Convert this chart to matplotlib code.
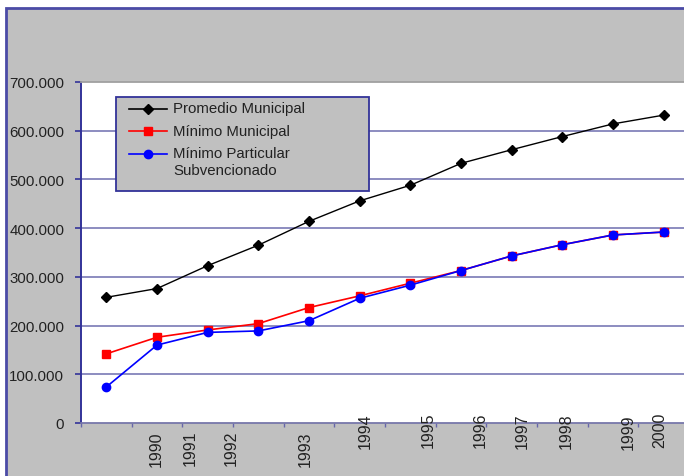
import matplotlib

matplotlib.use("Agg")
import matplotlib.pyplot as plt  # noqa: E402
import matplotlib.transforms as mtransforms  # noqa: E402
from matplotlib.patches import Rectangle  # noqa: E402
from matplotlib.lines import Line2D  # noqa: E402
import numpy as np  # noqa: E402

plt.rcParams["font.family"] = ["Liberation Sans", "DejaVu Sans"]

# Datos (12 observaciones, eje categórico)
promedio_municipal = [258000, 276000, 323000, 365000, 414000, 456000,
                      488000, 533000, 561000, 588000, 614000, 632000]
minimo_municipal = [142000, 176000, 191000, 204000, 237000, 261000,
                    287000, 313000, 343000, 366000, 386000, 392000]
minimo_particular = [74000, 160000, 186000, 189000, 210000, 256000,
                     283000, 313000, 343000, 366000, 386000, 392000]

series_nombres = ["Promedio Municipal", "Mínimo Municipal",
                  "Mínimo Particular\nSubvencionado"]

# Etiquetas de años tal como aparecen (desalineadas) bajo el eje
anios = ["1990", "1991", "1992", "1993", "1994", "1995",
         "1996", "1997", "1998", "1999", "2000"]
anios_x = [0.99, 1.65, 2.47, 3.92, 5.12, 6.35, 7.38, 8.21, 9.08, 10.30, 10.92]
anios_top = [432, 431, 431, 432, 413, 413, 413, 414, 413, 415, 413]  # px desde arriba

y_ticks = list(range(0, 700001, 100000))

_GRIS = "#C0C0C0"
_AZUL_BORDE = "#4B4BA6"
_AZUL_EJE = "#333399"
_GRID = "#8C8CC0"
_TXT = "#222222"

W, H = 684, 477
fig = plt.figure(figsize=(W / 100, H / 100), dpi=100, facecolor="white")

# Marco gris del área del gráfico
fig.patches.append(Rectangle((6 / W, -0.05), 1.1, 1 - 9 / H + 0.05,
                             transform=fig.transFigure, facecolor=_GRIS,
                             edgecolor=_AZUL_BORDE, linewidth=2, zorder=-1))

ax_l, ax_r, ax_t, ax_b = 81, 689, 83, 424
ax = fig.add_axes([ax_l / W, 1 - ax_b / H, (ax_r - ax_l) / W, (ax_b - ax_t) / H])
ax.set_facecolor("white")

x = np.arange(len(promedio_municipal))
ax.plot(x, promedio_municipal, color="black", lw=1.0, marker="D", ms=5.2,
        zorder=4)
ax.plot(x, minimo_municipal, color="#FF0000", lw=1.2, marker="s", ms=5.6,
        zorder=4)
ax.plot(x, minimo_particular, color="#0000FF", lw=1.2, marker="o", ms=6,
        zorder=5)

ax.set_xlim(-0.5, len(x) - 0.5)
ax.set_ylim(0, 700000)

for v in y_ticks[1:-1]:
    ax.axhline(v, color=_GRID, lw=1.4, zorder=1)

ax.set_yticks(y_ticks)
ax.set_yticklabels([f"{v:,}".replace(",", ".") for v in y_ticks],
                   fontsize=10.8, color=_TXT)
ax.set_xticks(np.arange(-0.5, len(x), 1))
ax.set_xticklabels([])
ax.tick_params(axis="y", direction="out", length=4, width=1.2,
               color=_AZUL_EJE, pad=8)
ax.tick_params(axis="x", direction="out", length=3, width=1.0,
               color="#6666AA")

ax.spines["left"].set_color(_AZUL_EJE)
ax.spines["left"].set_linewidth(1.4)
ax.spines["bottom"].set_color("#7777AA")
ax.spines["bottom"].set_linewidth(1.3)
ax.spines["top"].set_color("#A0A0A0")
ax.spines["top"].set_linewidth(1.3)
ax.spines["right"].set_visible(False)

trans = mtransforms.blended_transform_factory(ax.transData, ax.transAxes)
alto = ax_b - ax_t
for etiqueta, xp, top in zip(anios, anios_x, anios_top):
    ax.text(xp, (ax_b - top) / alto, etiqueta, transform=trans, rotation=90,
            ha="center", va="top", fontsize=11.5, color=_TXT, clip_on=False)

# Leyenda dibujada a mano (el manejador va en la primera línea del texto)
ancho = ax_r - ax_l


def _ax_x(px):
    return (px - ax_l) / ancho


def _ax_y(py):
    return (ax_b - py) / alto


ax.add_patch(Rectangle((_ax_x(116), _ax_y(192)), _ax_x(369) - _ax_x(116),
                       _ax_y(98) - _ax_y(192), transform=ax.transAxes,
                       facecolor=_GRIS, edgecolor=_AZUL_EJE, lw=1.3, zorder=6))
estilos = [("black", "D", 5.2), ("#FF0000", "s", 5.6), ("#0000FF", "o", 6)]
filas = [109.5, 132, 154.5]
for nombre, (col, mk, ms), fy in zip(series_nombres, estilos, filas):
    ax.add_line(Line2D([_ax_x(129), _ax_x(167)], [_ax_y(fy)] * 2,
                       transform=ax.transAxes, color=col, lw=1.2, zorder=7))
    ax.add_line(Line2D([_ax_x(148)], [_ax_y(fy)], transform=ax.transAxes,
                       color=col, marker=mk, ms=ms, zorder=8))
    for j, linea in enumerate(nombre.split("\n")):
        ax.text(_ax_x(173), _ax_y(fy + j * 17), linea, transform=ax.transAxes,
                ha="left", va="center", fontsize=10.8, color=_TXT, zorder=8)

fig.savefig("out.png", dpi=100, facecolor=fig.get_facecolor())
